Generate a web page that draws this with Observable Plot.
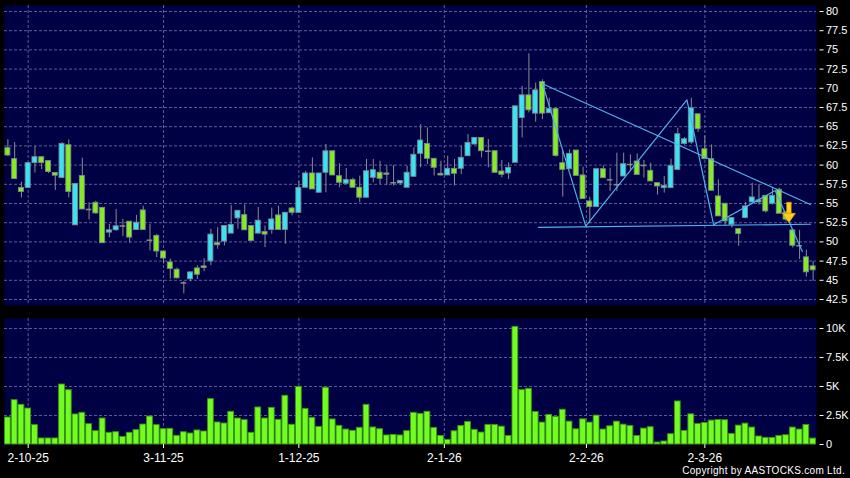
<!DOCTYPE html>
<html><head><meta charset="utf-8">
<script src="https://cdn.jsdelivr.net/npm/d3@7"></script>
<script src="https://cdn.jsdelivr.net/npm/@observablehq/plot@0.6"></script>
<style>
html,body{margin:0;padding:0;background:#000;}
#chart{position:relative;width:850px;height:478px;background:#000;overflow:hidden;font-family:"Liberation Sans",Arial,sans-serif;}
#price{position:absolute;left:0;top:0;}
#volume{position:absolute;left:0;top:312px;}
#copy{position:absolute;right:5px;top:465px;color:#fff;font-size:10px;letter-spacing:0.3px;white-space:nowrap;}
</style></head>
<body>
<div id="chart"><div id="price"></div><div id="volume"></div><div id="copy">Copyright by AASTOCKS.com Ltd.</div></div>
<script>
const opens = [62.2,60.78,57.03,57.03,60.26,61.03,60.52,58.97,58.32,62.59, 52.16,58.58,54.22,55.09,54.44,51.21,51.51,52.07,52.63,51.55, 54.1,50.22,50.78,48.75,47.33,46.38,44.66,45.13,46.55,46.81, 47.46,49.83,50.04,51.08,53.06,53.49,52.07,51.08,51.29,51.55, 53.45,51.55,54.35,53.79,57.05,58.91,56.4,59.0,61.8,58.56, 57.57,58.05,57.05,55.75,58.35,59.0,58.91,57.7,57.61,57.05, 58.48,61.47,62.76,60.82,58.87,58.65,59.52,59.52,61.16,62.68, 63.54,61.81,61.81,59.17,58.91,60.3,66.14,69.08,66.7,70.81, 66.75,67.31,60.25,59.47,61.9,58.65,55.27,54.53,59.47,58.08, 57.35,58.52,60.08,60.47,59.95,59.25,57.65,57.0,57.0,59.38, 62.76,62.94,66.62,62.07,60.77,55.92,54.97,52.24,51.67,53.1, 55.14,55.14,56.0,54.97,56.79,53.84,51.5,49.5,47.99,46.82];
const highs = [63.3,62.93,57.76,60.3,62.41,61.1,60.6,58.97,62.93,63.28, 57.54,60.9,55.09,55.3,54.44,52.28,54.22,52.93,52.63,53.45, 54.66,52.28,50.99,48.84,47.76,46.6,44.83,46.1,46.9,47.84, 51.64,51.85,52.07,54.74,54.05,54.83,52.07,54.48,52.07,54.4, 54.66,53.79,54.5,57.89,59.2,60.94,58.91,62.68,61.8,60.17, 59.56,58.3,58.57,60.73,60.73,60.51,59.95,59.95,57.92,59.86, 62.24,65.27,64.84,60.82,60.51,61.16,60.73,62.46,63.97,63.6, 63.54,63.33,61.81,60.6,60.3,67.65,70.25,74.49,70.68,71.1, 68.7,67.31,61.77,61.98,61.9,59.73,55.83,59.47,59.9,59.6, 61.55,61.55,61.33,61.46,60.6,60.25,57.65,58.5,60.77,64.8, 63.6,68.7,66.62,63.8,62.63,58.08,54.97,53.1,51.67,55.14, 57.65,57.43,56.0,57.0,57.0,53.84,51.5,51.5,48.9,47.47];
const lows = [61.1,58.1,55.73,57.0,58.97,59.4,58.9,56.7,58.3,55.73, 52.16,54.22,52.84,53.6,49.83,50.56,51.4,50.69,49.83,51.55, 51.55,48.84,47.97,47.11,45.17,45.17,43.23,44.8,45.1,46.12, 46.9,49.05,49.48,51.08,51.64,51.51,50.13,51.08,49.27,50.99, 51.55,49.7,53.4,53.79,57.05,56.83,56.4,56.4,58.65,57.05, 57.5,57.05,55.1,55.75,57.7,57.48,57.35,57.26,57.4,57.05, 58.48,59.65,60.08,58.57,58.6,58.65,57.27,58.78,61.16,62.6, 60.95,59.65,59.0,58.35,58.13,60.3,63.54,66.79,65.58,65.92, 66.75,61.03,55.83,59.47,58.6,55.57,52.37,54.53,58.3,56.57, 56.57,58.52,59.3,58.73,58.3,57.87,56.1,56.35,57.0,59.38, 62.6,62.7,64.25,60.77,56.66,53.32,52.1,51.8,49.42,53.0, 54.9,54.8,53.75,54.8,53.67,52.6,49.2,47.7,45.43,44.87];
const closes = [61.25,58.19,56.5,60.26,61.03,60.26,59.1,58.62,62.76,56.5, 57.54,54.22,54.22,53.71,49.83,51.51,52.03,52.07,50.56,52.5, 51.55,50.22,48.75,47.84,46.47,45.26,44.66,46.03,45.73,46.6, 50.95,49.57,52.07,52.2,54.05,51.51,50.13,52.76,50.95,52.93, 51.55,53.79,53.79,57.03,58.91,56.83,58.91,61.8,58.65,57.7, 58.05,57.05,55.75,59.2,59.34,58.22,58.74,57.7,57.92,59.0, 61.34,63.2,60.82,59.65,58.65,59.52,58.87,60.95,62.89,63.54, 61.81,61.81,59.0,58.74,59.65,67.65,69.08,67.13,69.73,66.7, 67.31,61.2,59.38,61.46,58.6,55.57,54.53,59.47,58.3,58.08, 57.45,60.12,60.08,58.73,59.95,57.87,57.22,57.3,59.9,64.02, 63.37,67.4,64.67,60.77,56.66,53.32,52.67,53.1,51.02,54.62, 55.79,55.4,53.97,56.0,53.67,52.89,49.5,49.5,46.04,46.3];
// volume in thousands
const volumes = [2.33,3.82,3.42,3.10,1.67,0.52,0.52,0.52,5.17,4.68, 2.59,2.73,1.75,1.15,2.24,1.01,1.06,0.66,1.01,1.24, 1.72,2.41,1.67,1.32,1.35,0.75,1.06,0.95,1.21,1.12, 3.91,1.90,1.81,2.82,2.24,2.10,1.01,3.19,2.24,3.16, 2.13,4.20,1.70,4.97,3.07,2.30,1.52,4.89,2.16,1.61, 1.29,1.18,1.44,3.42,1.47,1.32,0.78,0.83,0.78,1.15, 2.73,2.64,2.82,1.43,0.74,0.40,1.14,1.60,1.94,1.26, 1.03,1.69,1.69,1.54,0.74,10.14,4.69,4.80,2.80,1.89, 2.54,2.37,3.00,1.97,1.31,2.17,1.89,2.49,1.29,1.57, 1.97,1.71,1.60,0.74,1.37,1.49,0.17,0.26,0.89,3.71, 1.17,2.60,1.77,1.86,2.06,2.11,2.09,0.91,1.63,1.80, 1.46,0.69,0.57,0.57,0.74,0.80,1.46,1.29,1.69,0.51];

const priceTicks = [42.5,45,47.5,50,52.5,55,57.5,60,62.5,65,67.5,70,72.5,75,77.5,80];
const volTicks = [0,2.5,5,7.5,10];
const volTickLabels = ["0","2.5K","5K","7.5K","10K"];
const dateTicks = [3,23,43,64.5,85.5,103];
const dateLabels = ["2-10-25","3-11-25","1-12-25","2-1-26","2-2-26","2-3-26"];

// drawn pattern lines (trading-day index, price)
const zigzagX = [79,85.4,100.35,104.3,113.4,117.4];
const zigzagY = [70.6,52.05,68.5,52.23,56.7,48.75];
const resistX = [79,118.6];
const resistY = [70.6,54.87];
const supportX = [78.4,118.6];
const supportY = [51.9,52.3];
const arrowIdx = 115.5, arrowTop = 55.1, arrowTip = 52.45;

const candles = opens.map((o,i)=>({i,o,h:highs[i],l:lows[i],c:closes[i],v:volumes[i]}));
const toPts = (xs,ys)=>xs.map((x,k)=>({x,y:ys[k]}));

const navy = "#000044";
const grid = "#5d5d9a";
const upCol = "#38e4f4";
const dnCol = "#86ec22";
const edge = "#7d8790";
const wick = "#8c8c8c";
const lineCol = "#4fb2ea";
const xDomain = [-0.5, opens.length - 0.5];
const style = {background:"transparent", color:"#fff", fontFamily:"'Liberation Sans', Arial, sans-serif", fontSize:"11px", overflow:"visible"};

const headTop = arrowTip + 1.2;
const arrowHead = [
  {x: arrowIdx - 0.95, y1: headTop, y2: headTop},
  {x: arrowIdx, y1: arrowTip, y2: headTop},
  {x: arrowIdx + 0.95, y1: headTop, y2: headTop}
];

const price = Plot.plot({
  width: 850, height: 312,
  marginLeft: 4, marginRight: 34, marginTop: 5, marginBottom: 7,
  style,
  x: {domain: xDomain, axis: null, label: null},
  y: {domain: [41.72, 80.78], axis: null, label: null},
  marks: [
    Plot.frame({fill: navy}),
    Plot.gridY(priceTicks, {stroke: grid, strokeOpacity: 1, strokeDasharray: "3,2"}),
    Plot.gridX(dateTicks, {stroke: grid, strokeOpacity: 1, strokeDasharray: "3,2"}),
    Plot.ruleX(candles, {x: "i", y1: "l", y2: "h", stroke: wick}),
    Plot.rect(candles.filter(d => Math.abs(d.c - d.o) >= 0.12), {x1: d => d.i - 0.37, x2: d => d.i + 0.37, y1: "o", y2: "c", fill: d => d.c > d.o ? upCol : dnCol, stroke: edge, strokeWidth: 0.9}),
    Plot.ruleY(candles.filter(d => Math.abs(d.c - d.o) < 0.12), {y: "c", x1: d => d.i - 0.42, x2: d => d.i + 0.42, stroke: wick, strokeWidth: 1.5}),
    Plot.line(toPts(supportX, supportY), {x: "x", y: "y", stroke: lineCol, strokeWidth: 1.2}),
    Plot.line(toPts(resistX, resistY), {x: "x", y: "y", stroke: lineCol, strokeWidth: 1.2}),
    Plot.line(toPts(zigzagX, zigzagY), {x: "x", y: "y", stroke: lineCol, strokeWidth: 1.2}),
    Plot.rect([{x: arrowIdx}], {x1: d => d.x - 0.32, x2: d => d.x + 0.32, y1: arrowTop, y2: headTop, fill: "#ffd21a", stroke: "#e39a00", strokeWidth: 0.8}),
    Plot.areaY(arrowHead, {x: "x", y1: "y1", y2: "y2", fill: "#ffd21a", stroke: "#e39a00", strokeWidth: 0.8, curve: "linear"}),
    Plot.axisY(priceTicks, {anchor: "right", label: null, tickSize: 4, tickPadding: 3, dx: 2.5, tickFormat: d => String(d), fill: "#fff", stroke: "#fff", fontSize: 11})
  ]
});
document.getElementById("price").append(price);

const volume = Plot.plot({
  width: 850, height: 166,
  marginLeft: 4, marginRight: 34, marginTop: 6, marginBottom: 34,
  style,
  x: {domain: xDomain, axis: null, label: null},
  y: {domain: [0, 10.86], axis: null, label: null},
  marks: [
    Plot.frame({fill: navy}),
    Plot.gridY(volTicks.filter(d => d > 0), {stroke: grid, strokeOpacity: 1, strokeDasharray: "3,2"}),
    Plot.gridX(dateTicks, {stroke: grid, strokeOpacity: 1, strokeDasharray: "3,2"}),
    Plot.rect(candles, {x1: d => d.i - 0.43, x2: d => d.i + 0.43, y1: 0, y2: "v", fill: "#72fc22", stroke: "#3a9612", strokeWidth: 0.9}),
    Plot.axisY(volTicks, {anchor: "right", label: null, tickSize: 4, tickPadding: 3, dx: 2.5, tickFormat: d => volTickLabels[volTicks.indexOf(d)], fill: "#fff", stroke: "#fff", fontSize: 11}),
    Plot.axisX(dateTicks, {anchor: "bottom", label: null, tickSize: 4, tickPadding: 5, tickFormat: d => dateLabels[dateTicks.indexOf(d)], fill: "#fff", stroke: "#fff", fontSize: 12})
  ]
});
document.getElementById("volume").append(volume);
</script>
</body></html>
